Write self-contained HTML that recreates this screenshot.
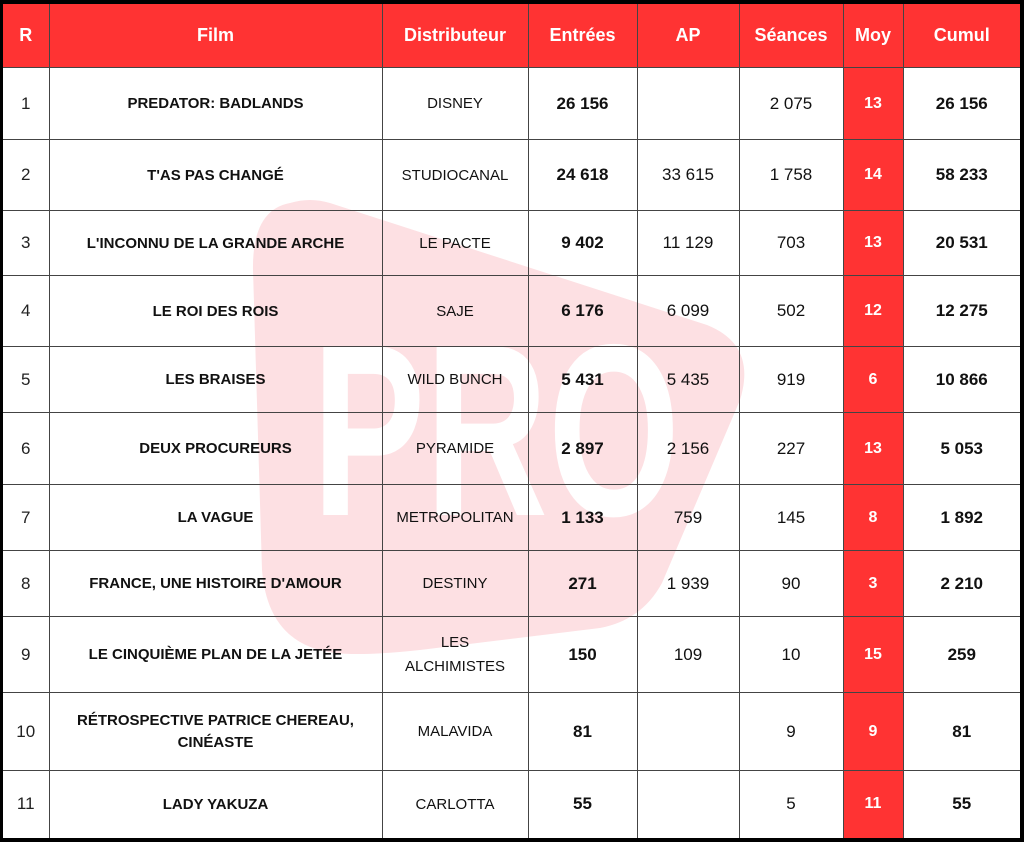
<!DOCTYPE html>
<html><head><meta charset="utf-8"><style>
html,body{margin:0;padding:0;background:#000;}
#wrap{position:relative;width:1024px;height:842px;background:#000;overflow:hidden;}
#inner{position:absolute;left:3px;top:4px;width:1017px;height:834px;background:#fff;}
svg{position:absolute;left:0;top:0;}
table{position:absolute;left:3px;top:4px;width:1017px;border-collapse:collapse;table-layout:fixed;font-family:"Liberation Sans",sans-serif;}
td,th{border:1px solid #444;text-align:center;vertical-align:middle;padding:0;font-size:15px;color:#111;overflow:hidden;}
th{background:#ff3333;color:#fff;font-size:18px;font-weight:bold;height:63px;}
td.b{font-weight:bold;}
td.n{font-size:17px;}
td.bn{font-weight:bold;font-size:17px;}
td.m{background:#ff3333;color:#fff;font-weight:bold;font-size:16px;}
td.rk{font-size:17px;color:#222;}
table tr:first-child th{border-top:none;}
table tr th:first-child,table tr td:first-child{border-left:none;}
table tr th:last-child,table tr td:last-child{border-right:none;}
table tr:last-child td{border-bottom:none;}
</style></head><body><div id="wrap">
<div id="inner"></div>
<svg width="1024" height="842" viewBox="0 0 1024 842">
<path d="M 290,203 Q 252,210 253,270 L 262,570 Q 268,645 335,653 Q 365,656 420,650 L 600,628 Q 642,620 662,583 L 740,400 Q 757,345 707,325 L 330,203 Q 310,197 290,203 Z" fill="#fde0e3"/>
<text x="312" y="515" font-family="Liberation Sans, sans-serif" font-weight="bold" font-size="245" fill="#fff" textLength="368" lengthAdjust="spacingAndGlyphs">PRO</text>
</svg>
<table>
<colgroup><col style="width:46px"><col style="width:333px"><col style="width:146px"><col style="width:109px"><col style="width:102px"><col style="width:104px"><col style="width:60px"><col style="width:117px"></colgroup>
<tr><th>R</th><th>Film</th><th>Distributeur</th><th>Entrées</th><th>AP</th><th>Séances</th><th>Moy</th><th>Cumul</th></tr>
<tr style="height:72px"><td class="rk">1</td><td class="b">PREDATOR: BADLANDS</td><td>DISNEY</td><td class="bn">26 156</td><td class="n"></td><td class="n">2 075</td><td class="m">13</td><td class="bn">26 156</td></tr>
<tr style="height:71px"><td class="rk">2</td><td class="b">T'AS PAS CHANGÉ</td><td>STUDIOCANAL</td><td class="bn">24 618</td><td class="n">33 615</td><td class="n">1 758</td><td class="m">14</td><td class="bn">58 233</td></tr>
<tr style="height:65px"><td class="rk">3</td><td class="b">L'INCONNU DE LA GRANDE ARCHE</td><td>LE PACTE</td><td class="bn">9 402</td><td class="n">11 129</td><td class="n">703</td><td class="m">13</td><td class="bn">20 531</td></tr>
<tr style="height:71px"><td class="rk">4</td><td class="b">LE ROI DES ROIS</td><td>SAJE</td><td class="bn">6 176</td><td class="n">6 099</td><td class="n">502</td><td class="m">12</td><td class="bn">12 275</td></tr>
<tr style="height:66px"><td class="rk">5</td><td class="b">LES BRAISES</td><td>WILD BUNCH</td><td class="bn">5 431</td><td class="n">5 435</td><td class="n">919</td><td class="m">6</td><td class="bn">10 866</td></tr>
<tr style="height:72px"><td class="rk">6</td><td class="b">DEUX PROCUREURS</td><td>PYRAMIDE</td><td class="bn">2 897</td><td class="n">2 156</td><td class="n">227</td><td class="m">13</td><td class="bn">5 053</td></tr>
<tr style="height:66px"><td class="rk">7</td><td class="b">LA VAGUE</td><td>METROPOLITAN</td><td class="bn">1 133</td><td class="n">759</td><td class="n">145</td><td class="m">8</td><td class="bn">1 892</td></tr>
<tr style="height:66px"><td class="rk">8</td><td class="b">FRANCE, UNE HISTOIRE D'AMOUR</td><td>DESTINY</td><td class="bn">271</td><td class="n">1 939</td><td class="n">90</td><td class="m">3</td><td class="bn">2 210</td></tr>
<tr style="height:76px"><td class="rk">9</td><td class="b">LE CINQUIÈME PLAN DE LA JETÉE</td><td style="line-height:24px">LES<br>ALCHIMISTES</td><td class="bn">150</td><td class="n">109</td><td class="n">10</td><td class="m">15</td><td class="bn">259</td></tr>
<tr style="height:78px"><td class="rk">10</td><td class="b" style="line-height:22px">RÉTROSPECTIVE PATRICE CHEREAU,<br>CINÉASTE</td><td>MALAVIDA</td><td class="bn">81</td><td class="n"></td><td class="n">9</td><td class="m">9</td><td class="bn">81</td></tr>
<tr style="height:67px"><td class="rk">11</td><td class="b">LADY YAKUZA</td><td>CARLOTTA</td><td class="bn">55</td><td class="n"></td><td class="n">5</td><td class="m">11</td><td class="bn">55</td></tr>
</table>
</div></body></html>
